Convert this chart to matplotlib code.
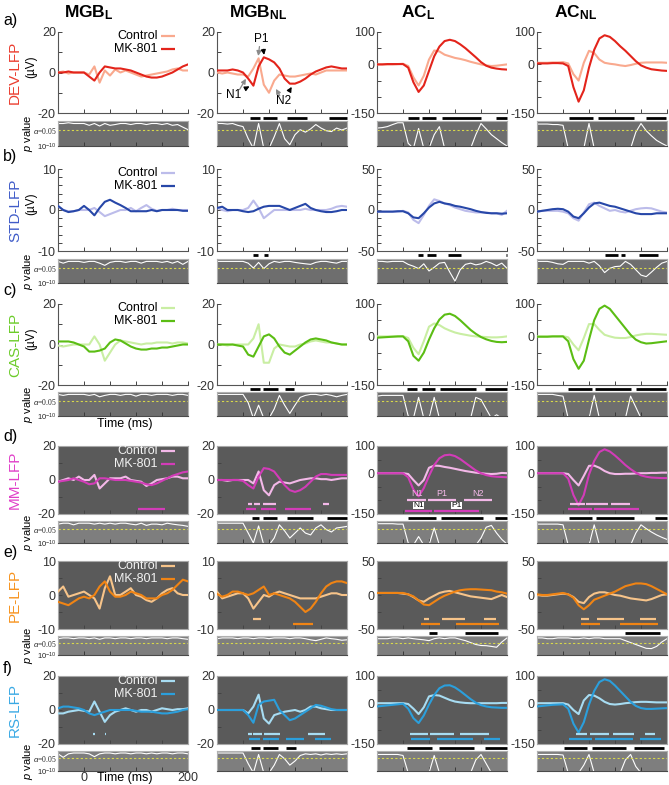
import numpy as np
import matplotlib
matplotlib.use("Agg")
import matplotlib.pyplot as plt
from matplotlib.transforms import blended_transform_factory

plt.rcParams['font.family'] = ['Liberation Sans', 'DejaVu Sans']
plt.rcParams['mathtext.fontset'] = 'custom'
plt.rcParams['mathtext.rm'] = 'Liberation Sans'
plt.rcParams['mathtext.it'] = 'Liberation Sans:italic'
plt.rcParams['mathtext.bf'] = 'Liberation Sans:bold'

# time axis (ms), one sample every 10 ms
time_ms = [-50, -40, -30, -20, -10, 0, 10, 20, 30, 40, 50, 60, 70,
           80, 90, 100, 110, 120, 130, 140, 150, 160, 170, 180, 190, 200]

col_titles = [r'$\mathbf{MGB}_{\mathbf{L}}$', r'$\mathbf{MGB}_{\mathbf{NL}}$',
              r'$\mathbf{AC}_{\mathbf{L}}$', r'$\mathbf{AC}_{\mathbf{NL}}$']
row_names = ["DEV-LFP", "STD-LFP", "CAS-LFP", "MM-LFP", "PE-LFP", "RS-LFP"]
row_letters = ["a)", "b)", "c)", "d)", "e)", "f)"]

# ---- DEV ----
dev_ctrl = [
    [0, 0.5, -0.5, 0, 0, 0, -1, 3, -5, 1, -1.5, 1.5, 0, 1, 0, -1, -2, -1.5, -1, -0.5, 0, 0.5, 1.5, 2, 1, 1],
    [0, -0.5, 0, -0.5, -1, -1, -2, 2, 7, -6, -10, -4, -1, -1.5, -2, -2, -1.5, -1, -0.5, -1, 0, 1, 1, 1, 1, 1],
    [0, 0, 0, 0, 1, 2, -5, -40, -65, -35, 15, 43, 40, 30, 25, 20, 17, 13, 8, 4, 0, -3, -5, -4, -2, 0],
    [5, 5, 5, 6, 6, 7, 3, -30, -50, 5, 42, 35, 15, 5, 2, 0, -3, -5, -2, 2, 5, 6, 6, 6, 6, 5]]
dev_mk = [
    [0, 0, 0.5, 0, 0, 0, -2, -4, 0, 3, 2.5, 2, 2, 1.5, 1, 0, -1, -2, -2.5, -2.5, -2, -1, 0, 1.5, 3, 4],
    [1, 1, 1, 1.5, 1, 0, -3, -6.5, 3, 7.5, 6.5, 5, 2, -3, -5.5, -5.5, -4.5, -3, -1, 0.5, 1.5, 2.5, 3, 2.5, 2, 2],
    [0, 0, 1, 1, 1, 1, -10, -55, -85, -65, -20, 25, 55, 72, 76, 72, 62, 50, 36, 22, 7, -4, -10, -13, -15, -16],
    [3, 3, 3, 4, 4, 3, -5, -70, -115, -80, -10, 45, 80, 90, 85, 72, 56, 42, 26, 10, -3, -10, -15, -17, -19, -20]]
dev_logp = [
    [-0.1, -0.1, -0.05, -0.1, -0.1, -0.1, -0.3, -0.1, -0.4, -0.1, -0.3, -0.2, -0.1, -0.1, -0.2, -0.1, -0.1, -0.2, -0.1, -0.1, -0.2, -0.1, -0.3, -0.2, -0.6, -1.2],
    [-0.1, -0.1, -0.15, -0.1, -0.3, -0.5, -5, -12, -0.1, -12, -12, -4, -0.1, -5, -9, -3, -1.2, -2, -1, -0.2, -0.8, -1.5, -1.8, -0.8, -1.3, -0.8],
    [-0.8, -0.7, -0.5, -0.2, -0.05, -0.05, -8, -12, -0.9, -12, -12, -3, -0.5, -12, -12, -12, -12, -12, -12, -3, -0.1, -1, -3, -5, -7.5, -10],
    [-0.15, -0.15, -0.15, -0.2, -0.2, -0.3, -12, -12, -12, -12, -0.1, -12, -12, -12, -12, -12, -12, -12, -12, -2, -0.1, -1.5, -3.5, -6, -8, -10]]
dev_sig = [[], [(13, 33), (38, 65), (84, 124), (166, 200)],
           [(10, 31), (36, 63), (75, 150), (178, 200)], [(11, 58), (67, 137), (160, 198)]]

# ---- STD ----
std_ctrl = [
    [1, 0, -0.3, -0.3, 0, 0, 0, 0.5, -0.5, -1.5, -1, -0.5, 0, 0, 0.5, -0.3, 0.5, 1.2, 0.3, -0.2, 0, 0, 0.3, 0, 0, 0],
    [0.5, 0, -0.3, 0, 0, 0, 0.5, 2.3, 0.5, -2, -1, 0, 0, 0, 0, 0, 0, 0.3, 0, 0, 0, 0, 0.3, 0.8, 1, 0.8],
    [-2, -2, -2, -2, -2, -1, -3, -12, -16, -6, 5, 13, 11, 8, 6, 3, 1, -1, -2, -3, -3, -3, -4, -4, -6, -1],
    [-2, -1, -1, -1, -1, -2, -4, -10, -13, -3, 7, 9, 5, 2, -1, 0, -2, -3, -1, 1, 2, 2.5, 2, 0, -2, -3]]
std_mk = [
    [1, 0, -0.5, -0.3, 0, 1, 0, -1.3, 0.5, 2, 2.5, 1.8, 1.2, 0.5, -0.3, -0.3, -0.3, -0.3, 0, -0.3, 0, 0, 0, 0, -0.2, -0.2],
    [0.5, 0.8, 0, 0, 0, -0.3, -0.5, -0.3, 0.3, 0.8, 1, 1, 1, 0.5, 0, 0.5, 1, 1.5, 0.5, 0, -0.3, -0.5, -0.5, -0.3, 0, 0],
    [-2, -2, -2, -2, -1.5, -1.5, -4, -9, -10, -4, 3, 8, 10, 8, 7, 5, 4, 2.5, 1, -1, -2.5, -3.5, -4, -4, -4.5, -4],
    [-2, -1, 0, 1, 1.5, 1, -2, -8, -10, -4, 3, 8, 9, 7, 5, 4, 2, 0, -2, -4, -5, -5, -5, -4, -4, -4]]
std_logp = [
    [-0.1, -0.3, -0.1, -0.1, -0.1, -0.2, -0.1, -0.1, -0.3, -0.7, -0.2, -0.1, -0.1, -0.2, -0.1, -0.1, -0.3, -0.1, -0.1, -0.1, -0.2, -0.1, -0.3, -0.1, -0.5, -0.1],
    [-0.1, -0.1, -0.1, -0.1, -0.1, -0.1, -0.3, -1.4, -0.2, -1.6, -0.4, -0.1, -0.2, -0.1, -0.1, -0.2, -0.3, -0.4, -0.5, -0.2, -0.1, -0.1, -0.2, -0.3, -0.1, -0.1],
    [-0.1, -0.1, -0.15, -0.1, -0.1, -0.1, -0.5, -0.9, -1.6, -0.4, -2.5, -1.2, -0.3, -0.2, -3, -8.5, -2, -0.5, -0.3, -0.6, -0.4, -0.1, -0.3, -0.8, -0.3, -1.5],
    [-0.1, -0.1, -0.1, -0.2, -0.4, -0.5, -0.1, -0.1, -0.1, -0.1, -0.3, -0.1, -0.8, -3.2, -1.5, -1, -0.9, -0.1, -0.5, -2, -4.5, -5.4, -3, -1.2, -0.3, -0.1]]
std_sig = [[], [(19, 29), (41, 48)], [(29, 39), (47, 64), (87, 112), (198, 200)],
           [(80, 106), (111, 119), (147, 182)]]

# ---- CAS ----
cas_ctrl = [
    [-0.5, -1, -0.5, 0, 0, 0, 0, 4, 0, -8, -4, 0, 2, 1.5, 1, 0.5, 0, 0.5, 0.5, 1, 1, 1, 0.5, 1, 1, 0.5],
    [0, 0, -0.5, 0, 0, 0, 0, 3, 10, -9, -9, -2, 0, -0.5, -1, -1, 0, 0.5, 1.5, 2, 1.5, 1, 1, 0.5, 0, 0],
    [0, 0, 0, 0, 0, 1, -5, -35, -55, -15, 30, 40, 35, 25, 18, 12, 8, 5, 2, 0, -1, -2, -3, -3, -2, 0],
    [0, 0, 0, 0, 0, 1, -3, -25, -43, -5, 38, 38, 20, 5, 0, -4, -5, -5, -2, 3, 6, 8, 8, 7, 6, 5]]
cas_mk = [
    [1.5, 1.5, 1.5, 1, 0, -1, -3.5, -3.5, -3, -2, 1, 2.5, 2, 0.5, -1, -2, -2.5, -2.5, -2, -2, -1.5, -1.5, -1, -0.5, 0, 0],
    [0, 0, 0, 0, -0.5, -1, -5, -6, -1, 4, 5, 3, -1, -4, -5, -3, -1, 1, 2.5, 3, 2.5, 2, 1, 0.5, 0, 0],
    [-4, -3, -2, -1, 0, 0, -15, -60, -75, -50, -10, 25, 52, 67, 70, 63, 50, 35, 20, 8, -2, -9, -14, -17, -18, -17],
    [-1, -1, -1, 0, 0, 0, -15, -70, -100, -75, -10, 50, 85, 95, 85, 65, 45, 25, 5, -10, -18, -22, -21, -19, -17, -15]]
cas_logp = [
    [-0.1, -0.2, -0.1, -0.1, -0.1, -0.1, -0.2, -0.1, -0.4, -0.2, -0.1, -0.1, -0.2, -0.1, -0.1, -0.3, -0.1, -0.1, -0.2, -0.1, -0.1, -0.1, -0.2, -0.1, -0.1, -0.2],
    [-0.1, -0.1, -0.1, -0.1, -0.1, -0.1, -2, -12, -3, -12, -12, -5, -0.2, -3, -8, -3, -0.5, -0.2, -0.1, -0.1, -0.2, -0.1, -0.2, -0.4, -0.2, -0.1],
    [-0.3, -0.2, -0.2, -0.2, -0.2, -0.2, -10, -12, -0.5, -12, -12, -0.5, -12, -12, -12, -12, -12, -12, -12, -0.5, -1, -5, -12, -9, -12, -12],
    [-0.1, -0.1, -0.1, -0.1, -0.2, -0.3, -12, -12, -12, -12, -12, -0.2, -12, -12, -12, -12, -12, -12, -0.3, -4, -12, -12, -12, -12, -12, -12]]
cas_sig = [[], [(13, 32), (38, 67), (80, 99)], [(8, 27), (37, 61), (71, 141), (158, 200)],
           [(9, 55), (62, 131), (141, 198)]]

# ---- MM ----
mm_ctrl = [
    [-1, 0, 1, 0, 2, 0, 0, 3, -5, -2, 1, 1, 1, 2, 0, -0.5, -1, -3.5, -2, 0, 0.5, 1, 2, 2, 1, 1],
    [0, 0, -0.5, 0, 0, 0, 0, -2, 5, -6, -9, -3, -1, -1.5, -2, -1, 0, 0.5, 1, 1, 0.5, 0.5, 0, 0.5, 1, 1],
    [0, 0, 0, 0, 0, 0, -3, -25, -45, -25, 20, 28, 27, 23, 20, 16, 12, 8, 5, 2, 0, -2, -3, -2, 1, 0],
    [0, 0, 0, 0, 0, 0, -3, -25, -45, -10, 27, 28, 20, 8, 0, -3, -3, -2, -2, -1, 0, 0, 1, 1, 2, 2]]
mm_mk = [
    [-1, -0.5, 0, 1, 0, -1, -2.5, -2, 1, 1, 0.5, 0, 0, 0, -0.5, -1, -1.5, -2.5, -3, -2, -0.5, 1, 2.5, 3.5, 4.5, 5],
    [0, 0, 0, 0, 0, -0.5, -3, -5, 2, 7, 6.5, 5, 1, -3, -6, -7, -6, -4, -1, 2, 3.5, 3.5, 3, 3, 3, 3],
    [0, 0, 0, 0, 0, 0, -15, -60, -85, -55, -10, 30, 55, 66, 68, 63, 52, 38, 24, 10, 0, -7, -11, -13, -14, -15],
    [0, 0, 0, 0, 0, 0, -20, -80, -118, -80, -5, 45, 78, 88, 80, 65, 48, 30, 15, 2, -8, -13, -16, -17, -18, -18]]
mm_logp = [
    [-0.2, -0.1, -0.1, -0.3, -0.1, -0.1, -0.1, -0.2, -0.1, -0.2, -0.1, -0.2, -0.1, -0.1, -0.2, -0.3, -0.1, -0.4, -0.2, -0.2, -0.3, -0.1, -0.2, -0.3, -0.4, -0.6],
    [-0.1, -0.1, -0.1, -0.1, -0.1, -0.1, -3, -10, -0.5, -12, -12, -6, -0.3, -2, -6, -3, -1, -3, -4, -1, -0.3, -1.5, -2.5, -1, -0.8, -0.6],
    [-0.15, -0.15, -0.15, -0.15, -0.2, -0.2, -10, -12, -5, -12, -12, -1, -12, -12, -12, -12, -12, -12, -12, -12, -6, -0.8, -0.4, -3, -7, -11],
    [-0.2, -0.2, -0.2, -0.2, -0.2, -0.3, -12, -12, -12, -12, -12, -0.3, -12, -12, -12, -12, -12, -12, -12, -3, -0.3, -1.2, -2.5, -4, -5.5, -7]]
mm_sig = [[], [(17, 31), (38, 65), (84, 134), (162, 200)], [(9, 63), (73, 153), (177, 200)],
          [(12, 55), (64, 137), (176, 200)]]
mm_ctrl_bars = [[], [(9, 18), (22, 32), (38, 64), (153, 166)], [(8, 45), (48, 102), (118, 172)],
                [(13, 42), (45, 87), (93, 128)]]
mm_mk_bars = [[(104, 155)], [(6, 25), (35, 64), (80, 130)], [(4, 55), (59, 147)], [(10, 55), (59, 147)]]
mm_ctrl_peaks = ["N1", "P1", "N2"]
mm_mk_peaks = ["N1", "P1"]

# ---- PE ----
pe_ctrl = [
    [1, 2.5, -0.5, 0, 0.5, 1, 0, -1, -4, 2, 5.5, 0, 0, 1, 2, 0, -0.5, -1.5, -2, -1, 0.5, 1.5, 2, 0.5, 0, 0],
    [1, -1, -0.5, 0, 0.5, 0.5, -1, -4, -2, 0, -0.5, 0.5, 1, 0.5, 0, -0.5, -1, -1, -1, -1, -0.5, 0, 0.5, 0.5, 0, 0],
    [3, 3, 3, 3, 3, 2, 1, -3, -8, -10, -5, -1, 3, 5, 6, 4, 2, 0, -2, -3, -4, -5, -6, -3, 0, -3],
    [0, -1, -1, 0, 1, 2, 1, -3, -10, -12, -3, 2, 4, 4, 2, 0, -1, -3, -5, -6, -7, -8, -6, -3, 0, 1]]
pe_mk = [
    [-2, -2.5, -3, -2, -1, -0.5, -1, 0, 2.5, 4, 1, -0.5, -0.5, 0, 1, 0.5, 0, -1, -1, -1, 0, 0.5, 1.5, 3, 4.5, 4],
    [0.3, -0.5, 0, 1, 1, 0.5, 0, 0.5, 1.5, 2.5, 0, 0.5, 0, -0.5, -1, -2, -3.5, -5, -4, -2, 0.5, 2.5, 3.5, 4, 4, 3.5],
    [3, 3, 3, 3, 3, 3, 1, -2, -8, -14, -15, -10, -5, -1, 2, 5, 7, 8, 8.5, 8.5, 8, 7.5, 7, 5, 4, 2],
    [1, 0, 0, 1, 2, 3, 1, -4, -15, -21, -15, -7, -4, -1, 2, 5, 9, 13, 15, 17, 17, 16, 13, 9, 5, 1]]
pe_logp = [
    [-0.2, -0.1, -0.1, -0.2, -0.1, -0.1, -0.2, -0.1, -0.3, -0.1, -0.1, -0.2, -0.1, -0.1, -0.2, -0.1, -0.1, -0.2, -0.1, -0.1, -0.1, -0.2, -0.1, -0.1, -0.2, -0.3],
    [-0.2, -0.1, -0.1, -0.1, -0.2, -0.1, -0.1, -0.2, -0.1, -0.1, -0.2, -0.1, -0.1, -0.1, -0.2, -0.1, -0.1, -0.2, -0.4, -0.6, -0.3, -0.1, -0.2, -0.3, -0.5, -0.4],
    [-0.2, -0.2, -0.2, -0.1, -0.1, -0.2, -0.1, -0.2, -0.3, -0.4, -0.6, -0.2, -0.1, -0.2, -0.1, -0.1, -0.3, -0.6, -1.2, -2, -2.5, -2.6, -3, -3.5, -1, -0.1],
    [-0.1, -0.1, -0.2, -0.2, -0.1, -0.1, -0.1, -0.2, -0.2, -0.1, -0.2, -0.1, -0.1, -0.2, -0.2, -0.2, -0.2, -0.6, -1.2, -2, -3, -4.2, -4.4, -3, -1, -0.2]]
pe_sig = [[], [], [(50, 66), (120, 182)], [(120, 186)]]
pe_ctrl_bars = [[], [(20, 34)], [(40, 50), (75, 120), (155, 179)], [(34, 50), (65, 118), (149, 179)]]
pe_mk_bars = [[], [(97, 135)], [(34, 72), (101, 185)], [(34, 71), (110, 183)]]

# ---- RS ----
rs_ctrl = [
    [-2, -2, -1, -0.5, 0, -0.5, -1, 5, -1, -7, -3, -1, 0, 1, 0, -1, 0, 0, -1, 0, 1, 0.5, 0, 0.5, 0.5, 1],
    [0, 0, 0, 0, 0, 0, -2, 2, 9, -5, -8, -3, -2, -1, -0.5, 0, -1, 0, 2, 2, 1, 0.5, 0, 0, 0, 0],
    [0, 0, 0, 0, 0, 0, -3, -20, -40, -15, 25, 30, 28, 20, 12, 6, 3, 1, 0, 0, 0, 0, 0, 0, 1, 1],
    [0, 0, 0, 0, 0, 0, -5, -25, -40, 10, 30, 28, 18, 5, -3, -5, -3, 0, 2, 4, 5, 5, 4, 3, 3, 3]]
rs_mk = [
    [1, 2, 2, 1.5, 1, 0, -2, -3, -2, -1, 0, 0, 0, 0, 0, -0.5, -1, -1, -1, -1.5, -2, -2, -1.5, -1, 0, 0.5],
    [0, 0, 0, 0, 0, 0, -3, -7.5, 3, 5, 5.5, 6, 0, -3, -6, -5, -3, -1, 1, 3, 2.5, 1.5, 0.5, 0, 0, 0],
    [-12, -10, -8, -6, -4, -2, -20, -55, -73, -45, -5, 30, 55, 65, 66, 58, 45, 30, 15, 2, -7, -12, -15, -16, -17, -17],
    [-12, -10, -8, -6, -5, -4, -20, -75, -108, -70, -5, 45, 78, 88, 82, 65, 45, 25, 5, -10, -18, -21, -21, -20, -19, -18]]
rs_logp = [
    [-0.2, -1.0, -0.2, -0.1, -0.1, -0.1, -0.2, -0.8, -0.2, -0.1, -0.1, -0.2, -0.1, -0.1, -0.2, -0.1, -0.1, -0.2, -0.1, -0.2, -0.1, -0.1, -0.2, -0.1, -0.1, -0.2],
    [-0.1, -0.1, -0.1, -0.1, -0.1, -0.1, -4, -12, -0.3, -12, -12, -5, -0.3, -1.5, -5, -2.5, -0.5, -0.2, -0.3, -0.2, -0.4, -0.2, -0.3, -0.2, -0.3, -0.2],
    [-0.3, -0.3, -0.3, -0.3, -0.3, -0.5, -12, -12, -12, -12, -12, -0.5, -12, -12, -12, -12, -12, -12, -12, -2, -0.3, -4, -12, -12, -12, -12],
    [-0.3, -0.3, -0.3, -0.3, -0.3, -0.4, -12, -12, -12, -5, -0.3, -12, -12, -12, -12, -12, -12, -2, -0.3, -6, -12, -12, -12, -12, -12, -12]]
rs_sig = [[], [(15, 32), (38, 67), (83, 102)], [(8, 55), (69, 137), (158, 200)],
          [(2, 46), (55, 122), (137, 195)]]
rs_ctrl_bars = [[(18, 21), (40, 43)], [(10, 17), (20, 36), (40, 71), (125, 158)],
                [(13, 48), (52, 99), (109, 166)], [(25, 46), (52, 88), (96, 137), (157, 176)]]
rs_mk_bars = [[], [(12, 32), (38, 69), (82, 118), (139, 169)], [(15, 52), (66, 134), (155, 186)],
              [(12, 55), (62, 135), (149, 188)]]

# colours: (control, MK-801, row label)
colors = [("#f9a98e", "#e3241b", "#eb3d2f"),
          ("#bcbcea", "#2747a8", "#3f5bc8"),
          ("#c9eea3", "#5bbd14", "#6ccc2a"),
          ("#f3b8e8", "#d23cb8", "#e040c8"),
          ("#f7c48a", "#f08414", "#f7931e"),
          ("#a7dcf2", "#2b9fdc", "#3aa9e4")]

rows = [
    dict(ctrl=dev_ctrl, mk=dev_mk, logp=dev_logp, sig=dev_sig, cb=None, mb=None),
    dict(ctrl=std_ctrl, mk=std_mk, logp=std_logp, sig=std_sig, cb=None, mb=None),
    dict(ctrl=cas_ctrl, mk=cas_mk, logp=cas_logp, sig=cas_sig, cb=None, mb=None),
    dict(ctrl=mm_ctrl, mk=mm_mk, logp=mm_logp, sig=mm_sig, cb=mm_ctrl_bars, mb=mm_mk_bars),
    dict(ctrl=pe_ctrl, mk=pe_mk, logp=pe_logp, sig=pe_sig, cb=pe_ctrl_bars, mb=pe_mk_bars),
    dict(ctrl=rs_ctrl, mk=rs_mk, logp=rs_logp, sig=rs_sig, cb=rs_ctrl_bars, mb=rs_mk_bars),
]
# y ranges (MGB, AC) and minor tick step
mgb_lims = [(-20, 20, 10), (-10, 10, 2), (-20, 20, 10), (-20, 20, 10), (-10, 10, 5), (-20, 20, 10)]
ac_lims = [(-150, 100, 50), (-50, 50, 10), (-150, 100, 50), (-150, 100, 50), (-50, 50, 25), (-150, 100, 50)]

# ---- layout in pixels ----
W, H = 669, 785
fig = plt.figure(figsize=(W / 100, H / 100), dpi=100)


def px_axes(x, y, w, h):
    return fig.add_axes([x / W, 1 - (y + h) / H, w / W, h / H])


def ftext(x, y, s, **kw):
    return fig.text(x / W, 1 - y / H, s, **kw)


col_x = [58, 217, 377, 537]
col_w = 130
lfp_box = [(32, 81), (169, 82), (304, 81), (446, 68), (561, 68), (676, 68)]
p_box = [(121, 25), (259, 24), (392, 24), (521, 22), (636, 19), (751, 20)]
letter_y = [20, 157, 291, 437, 553, 668]
title_x = [89, 258, 418, 576]

tick_col = "#444444"
dark_bg = "#5a5a5a"
strip_dark = "#6e6e6e"
strip_light = "#7e7e7e"
alpha_line = np.log10(0.05)


def fwd(v):
    v = np.asarray(v, dtype=float)
    return np.sign(v) * np.sqrt(np.abs(v))


def inv(u):
    u = np.asarray(u, dtype=float)
    return np.sign(u) * u ** 2


for c, t in enumerate(col_titles):
    ftext(title_x[c], 13, t, fontsize=12.5, ha='center', va='center')

for r, row in enumerate(rows):
    c_ctrl, c_mk, c_lab = colors[r]
    dark = r >= 3
    ly, lh = lfp_box[r]
    py, ph = p_box[r]

    ftext(3, letter_y[r], row_letters[r], fontsize=11.5, va='center')
    ftext(15, ly + lh / 2, row_names[r], rotation=90, color=c_lab, fontsize=11,
          ha='center', va='center')
    if not dark:
        ftext(31, ly + lh / 2 - 6, "(µV)", rotation=90, fontsize=8.5,
              ha='center', va='center')
    ftext(28, py + ph / 2, r'$p$ value', rotation=90, fontsize=8, ha='center', va='center')

    for c in range(4):
        ax = px_axes(col_x[c], ly, col_w, lh)
        lo, hi, step = mgb_lims[r] if c < 2 else ac_lims[r]
        ax.plot(time_ms, row['ctrl'][c], color=c_ctrl, lw=1.5, zorder=3)
        ax.plot(time_ms, row['mk'][c], color=c_mk, lw=1.5, zorder=4)
        ax.set_xlim(-50, 200)
        ax.set_ylim(lo, hi)
        ax.set_xticks([-50, 0, 50, 100, 150, 200])
        ax.set_xticklabels([])
        yt = np.arange(lo, hi + 0.1, step)
        ax.set_yticks(yt)
        ax.set_yticklabels([str(v) if v in (lo, 0, hi) else '' for v in yt.astype(int)])
        ax.tick_params(direction='in', length=3, width=0.7, colors=tick_col,
                       labelsize=9, labelcolor="#333333", pad=1.5)
        if dark:
            ax.set_facecolor(dark_bg)
            for s in ax.spines.values():
                s.set_color("#a8a8a8")
                s.set_linewidth(0.8)
        else:
            for s in ('top', 'right'):
                ax.spines[s].set_visible(False)
            for s in ('left', 'bottom'):
                ax.spines[s].set_color("#555555")
                ax.spines[s].set_linewidth(0.8)

        # within-condition significance bars (rows d-f)
        if row['cb'] is not None:
            trans = blended_transform_factory(ax.transData, ax.transAxes)
            yc, ym = (0.15, 0.08)
            if r == 3 and c == 2:
                yc, ym = 0.21, 0.05
            for s0, s1 in row['cb'][c]:
                ax.plot([s0, s1], [yc, yc], color=c_ctrl, lw=1.6, transform=trans,
                        solid_capstyle='butt', zorder=5)
            for s0, s1 in row['mb'][c]:
                ax.plot([s0, s1], [ym, ym], color=c_mk, lw=1.6, transform=trans,
                        solid_capstyle='butt', zorder=5)
            if r == 3 and c == 2:
                for lab, (s0, s1) in zip(mm_ctrl_peaks, row['cb'][c]):
                    ax.text((s0 + s1) / 2, yc + 0.02, lab, transform=trans, color=c_ctrl,
                            fontsize=6.5, ha='center', va='bottom', zorder=6)
                for lab, (s0, s1) in zip(mm_mk_peaks, row['mb'][c]):
                    ax.text((s0 + s1) / 2, ym + 0.075, lab, transform=trans, color='black',
                            fontsize=6, ha='center', va='center', zorder=6,
                            bbox=dict(boxstyle='square,pad=0.05', fc='white', ec='none'))

        # legend on first column
        if c == 0:
            tcol = "#f2f2f2" if dark else "black"
            y1, y2 = (0.95, 0.79) if not dark else (0.92, 0.74)
            for yy, lab, lc in ((y1, "Control", c_ctrl), (y2, "MK-801", c_mk)):
                ax.text(0.765, yy, lab, transform=ax.transAxes, ha='right', va='center',
                        fontsize=9, color=tcol)
                ax.plot([0.79, 0.9], [yy, yy], color=lc, lw=1.6, transform=ax.transAxes,
                        solid_capstyle='butt')

        # peak annotations on DEV MGB_NL
        if r == 0 and c == 1:
            arr_g = dict(arrowstyle='-|>', color='#8a8a8a', lw=0.9, mutation_scale=7,
                         shrinkA=1, shrinkB=1)
            arr_k = dict(arrowstyle='-|>', color='black', lw=0.9, mutation_scale=7,
                         shrinkA=1, shrinkB=1)
            ax.annotate("", xy=(29, 7.5), xytext=(32, 13.5), arrowprops=arr_g)
            ax.annotate("P1", xy=(41, 8), xytext=(36, 13.5), arrowprops=arr_k,
                        fontsize=8.5, ha='center', va='bottom')
            ax.annotate("", xy=(7, -2.5), xytext=(-8, -9), arrowprops=arr_g)
            ax.annotate("N1", xy=(15, -6.5), xytext=(-18, -11), arrowprops=arr_k,
                        fontsize=8.5, ha='center', va='center')
            ax.annotate("", xy=(62, -7.5), xytext=(72, -12), arrowprops=arr_g)
            ax.annotate("N2", xy=(95, -6.5), xytext=(78, -14), arrowprops=arr_k,
                        fontsize=8.5, ha='center', va='center')

        # p-value strip
        axp = px_axes(col_x[c], py, col_w, ph)
        axp.set_facecolor(strip_light if dark else strip_dark)
        axp.set_yscale('function', functions=(fwd, inv))
        axp.plot(time_ms, row['logp'][c], color='white', lw=0.8)
        axp.axhline(alpha_line, color='#d8d84a', lw=0.8, ls=(0, (2, 2)))
        axp.set_xlim(-50, 200)
        axp.set_ylim(-10, 0)
        axp.set_xticks([-50, 0, 50, 100, 150, 200])
        axp.tick_params(axis='x', direction='in', length=3, width=0.7, colors="#3a3a3a",
                        labelsize=9, labelcolor="#333333", pad=1)
        for s in axp.spines.values():
            s.set_color("#b0b0b0")
            s.set_linewidth(0.8)
        axp.spines['bottom'].set_color("#4a4a4a")
        if c == 0:
            axp.set_yticks([alpha_line, -10])
            axp.set_yticklabels([r'$\alpha$=0.05', r'$10^{-10}$'], fontsize=5.5,
                                family='Liberation Serif')
            axp.tick_params(axis='y', length=0, pad=1, labelcolor="#222222")
        else:
            axp.set_yticks([])
        axp.yaxis.set_minor_locator(matplotlib.ticker.NullLocator())
        if r == 5 and c == 0:
            axp.set_xticklabels(['', '0', '', '', '', '200'])
        else:
            axp.set_xticklabels([])
        if c == 0 and r in (2, 5):
            axp.text(0.51, -7.5 / ph, "Time (ms)", transform=axp.transAxes, ha='center',
                     va='center', fontsize=9)

        # between-condition significance bars (above the strip)
        tb = blended_transform_factory(axp.transData, axp.transAxes)
        yb = 1 + 3.5 / ph
        for s0, s1 in row['sig'][c]:
            axp.plot([s0, s1], [yb, yb], color='black', lw=2, transform=tb,
                     clip_on=False, solid_capstyle='butt')

fig.savefig("out.png", dpi=100)
